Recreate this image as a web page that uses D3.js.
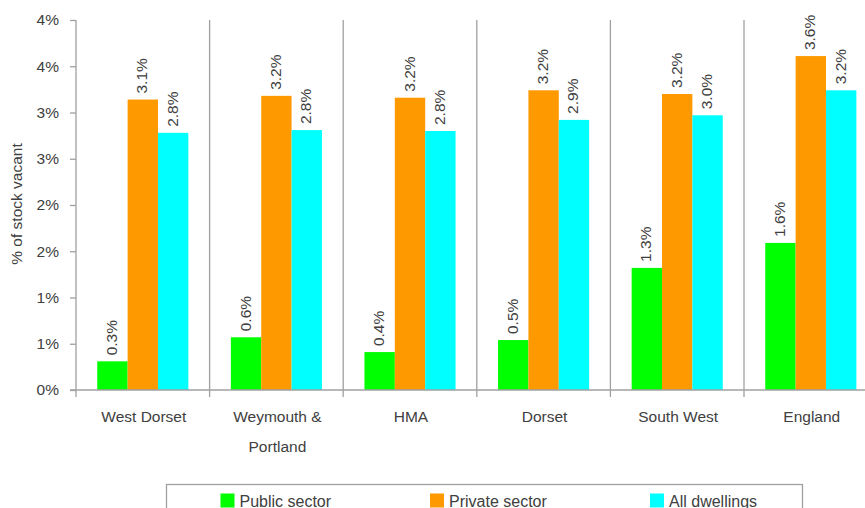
<!DOCTYPE html>
<html>
<head>
<meta charset="utf-8">
<script src="https://cdn.jsdelivr.net/npm/d3@7/dist/d3.min.js"></script>
<style>
  html, body { margin: 0; padding: 0; background: #fff; }
  svg { display: block; font-family: "Liberation Sans", Arial, sans-serif; }
</style>
</head>
<body>
<svg id="chart" width="865" height="508"></svg>
<script>
// Vacancy rates (% of dwelling stock) by area and tenure
const categories = ["West Dorset", "Weymouth & Portland", "HMA", "Dorset", "South West", "England"];
const seriesNames = ["Public sector", "Private sector", "All dwellings"];
const seriesColors = ["#00ff00", "#ff9900", "#00ffff"];
const publicSector = [0.31, 0.57, 0.41, 0.54, 1.32, 1.59];
const privateSector = [3.14, 3.18, 3.16, 3.24, 3.20, 3.61];
const allDwellings = [2.78, 2.81, 2.80, 2.92, 2.97, 3.24];
const yTickValues = [0, 0.5, 1, 1.5, 2, 2.5, 3, 3.5, 4];
const yTickLabels = ["0%", "1%", "1%", "2%", "2%", "3%", "3%", "4%", "4%"];
const yTitle = "% of stock vacant";

const seriesValues = [publicSector, privateSector, allDwellings];

const svg = d3.select("#chart");
const textColor = "#404040";
const axisColor = "#a0a0a0";

const plot = { left: 76, top: 20, bottom: 390, step: 133.6 };
plot.right = plot.left + plot.step * categories.length;

const x = d3.scaleBand().domain(categories).range([plot.left, plot.right]).padding(0);
const xInner = d3.scaleBand().domain(seriesNames).range([0, x.bandwidth()])
  .paddingInner(0).paddingOuter(0.7);
const y = d3.scaleLinear().domain([0, 4]).range([plot.bottom, plot.top]);

// category separators (vertical lines between groups), also acting as x ticks
svg.append("g").selectAll("line")
  .data(categories.slice(1).concat(["__end"]))
  .join("line")
  .attr("x1", (d, i) => x(categories[0]) + (i + 1) * x.step())
  .attr("x2", (d, i) => x(categories[0]) + (i + 1) * x.step())
  .attr("y1", plot.top).attr("y2", plot.bottom + 7)
  .attr("stroke", axisColor).attr("stroke-width", 1.3);

// bars
const groups = svg.append("g").selectAll("g")
  .data(categories)
  .join("g")
  .attr("transform", d => `translate(${x(d)},0)`);

seriesNames.forEach((s, si) => {
  groups.append("rect")
    .attr("x", xInner(s))
    .attr("width", xInner.bandwidth())
    .attr("y", (d, ci) => y(seriesValues[si][ci]))
    .attr("height", (d, ci) => y(0) - y(seriesValues[si][ci]))
    .attr("fill", seriesColors[si]);

  groups.append("text")
    .attr("transform", (d, ci) => {
      const cx = xInner(s) + xInner.bandwidth() / 2 + 4.5;
      const cy = y(seriesValues[si][ci]) - 6;
      return `translate(${cx},${cy}) rotate(-90)`;
    })
    .attr("text-anchor", "start")
    .attr("font-size", "15.5px")
    .attr("fill", textColor)
    .text((d, ci) => d3.format(".1f")(seriesValues[si][ci]) + "%");
});

// y axis
const yAxis = d3.axisLeft(y)
  .tickValues(yTickValues)
  .tickFormat((d, i) => yTickLabels[i])
  .tickSize(6)
  .tickPadding(11);
const yg = svg.append("g").attr("transform", `translate(${plot.left},0)`).call(yAxis);
yg.select(".domain").remove();
yg.selectAll(".tick line").attr("stroke", axisColor).attr("stroke-width", 1.3);
yg.selectAll(".tick text").attr("fill", textColor).attr("font-size", "15.5px")
  .attr("font-family", "Liberation Sans, Arial, sans-serif");
svg.append("line")
  .attr("x1", plot.left).attr("x2", plot.left)
  .attr("y1", plot.top).attr("y2", plot.bottom + 7)
  .attr("stroke", axisColor).attr("stroke-width", 1.3);

// x axis baseline
svg.append("line")
  .attr("x1", plot.left - 6).attr("x2", plot.right)
  .attr("y1", y(0)).attr("y2", y(0))
  .attr("stroke", axisColor).attr("stroke-width", 1.3);

// category labels (wrapped after "&")
svg.append("g").selectAll("text")
  .data(categories)
  .join("text")
  .attr("x", d => x(d) + x.bandwidth() / 2 + 1)
  .attr("y", 421.5)
  .attr("text-anchor", "middle")
  .attr("font-size", "15.5px")
  .attr("fill", textColor)
  .each(function (d) {
    const lines = d.includes("&") ? [d.slice(0, d.indexOf("&") + 1), d.slice(d.indexOf("&") + 2)] : [d];
    const t = d3.select(this);
    lines.forEach((ln, li) => {
      t.append("tspan")
        .attr("x", x(d) + x.bandwidth() / 2 + 1)
        .attr("dy", li === 0 ? 0 : 30)
        .text(ln);
    });
  });

// y axis title
svg.append("text")
  .attr("transform", `translate(22,204) rotate(-90)`)
  .attr("text-anchor", "middle")
  .attr("font-size", "15.5px")
  .attr("fill", textColor)
  .text(yTitle);

// legend
const legend = svg.append("g");
legend.append("rect")
  .attr("x", 166.5).attr("y", 484.5)
  .attr("width", 636).attr("height", 40)
  .attr("fill", "#fff").attr("stroke", axisColor).attr("stroke-width", 1.3);
const legendX = [220.5, 430, 650];
const legendItems = legend.selectAll("g")
  .data(seriesNames)
  .join("g")
  .attr("transform", (d, i) => `translate(${legendX[i]},0)`);
legendItems.append("rect")
  .attr("x", 0).attr("y", 493.5)
  .attr("width", 14).attr("height", 14)
  .attr("fill", (d, i) => seriesColors[i]);
legendItems.append("text")
  .attr("x", 19).attr("y", 506.5)
  .attr("font-size", "16px")
  .attr("fill", textColor)
  .text(d => d);
</script>
</body>
</html>
